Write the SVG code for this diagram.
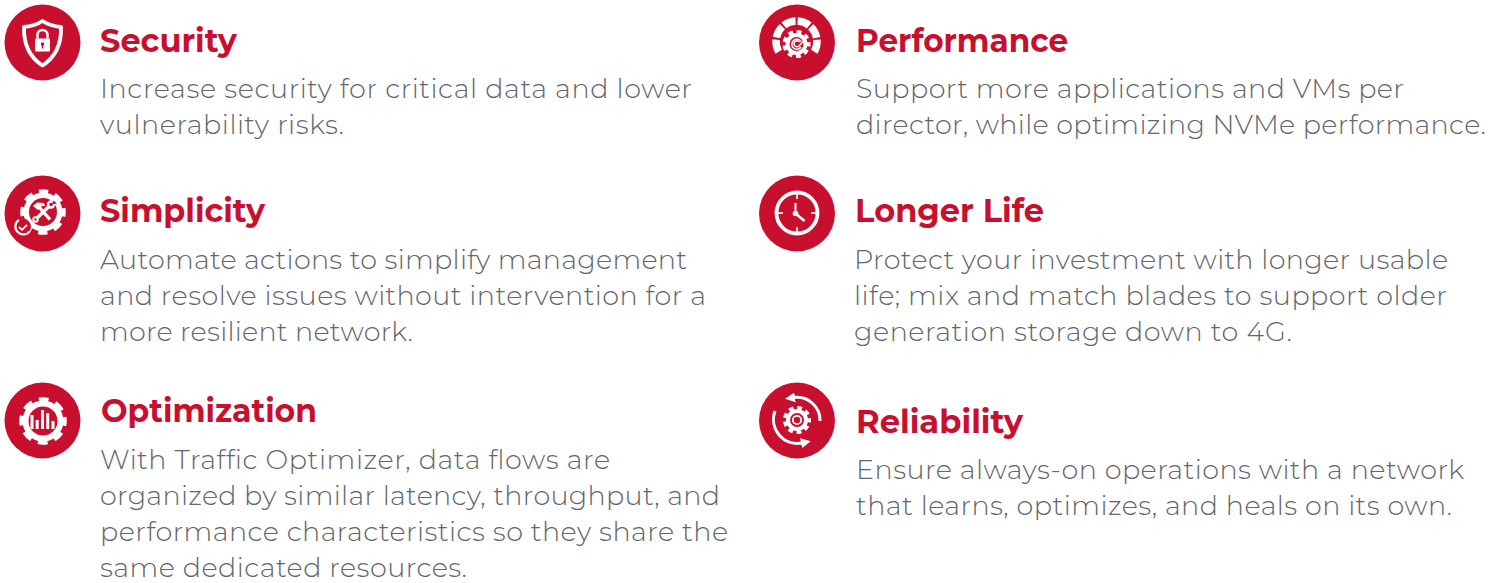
<svg xmlns="http://www.w3.org/2000/svg" width="1505" height="583" viewBox="0 0 1505 583">
<style>
.bg{fill:#fff}
.disc{fill:#c8102e}
.t{font-family:"Montserrat","Inter","Liberation Sans",sans-serif;font-weight:700;font-size:32px;fill:#c8102e}
.b{font-family:"Montserrat","Inter","Noto Sans","Liberation Sans",sans-serif;font-weight:300;font-size:27px;fill:#63666a}
.w{fill:#fff;stroke:none}
.r{fill:#c8102e;stroke:none}
.ws{fill:none;stroke:#fff}
.teeth{fill:none;stroke:#fff}
</style>
<defs>
<marker id="ah" markerUnits="userSpaceOnUse" markerWidth="11" markerHeight="11" refX="1" refY="5.500" orient="auto"><path d="M0 0.500L10 5.500L0 10.500Z" fill="#fff"/></marker>
</defs>
<rect class="bg" width="1505" height="583"/>
<g id="security">
<circle class="disc" cx="42.500" cy="42.500" r="38"/>
<path class="ws" stroke-width="3.800" stroke-linejoin="round" d="M42.500 21C36.500 25 30.500 26.500 24 27C23.500 43.500 28.500 56.500 42.500 65.500C56.500 56.500 61.500 43.500 61 27C54.500 26.500 48.500 25 42.500 21Z"/>
<path class="w" d="M36 38.500h13a1 1 0 0 1 1 1v11a1 1 0 0 1-1 1H36a1 1 0 0 1-1-1V39.500a1 1 0 0 1 1-1Z"/>
<path class="ws" stroke-width="2.400" d="M37.500 38.500v-3.500a5 5 0 0 1 10 0V38.500"/>
<circle class="r" cx="42.500" cy="44" r="1.700"/><rect class="r" x="41.700" y="44.500" width="1.600" height="4"/>
<text class="t" x="100" y="52" textLength="137" lengthAdjust="spacingAndGlyphs">Security</text>
<text class="b" x="100" y="98" textLength="592">Increase security for critical data and lower</text>
<text class="b" x="100" y="134" textLength="244">vulnerability risks.</text>
</g>
<g id="simplicity">
<circle class="disc" cx="42.500" cy="213.500" r="38"/>
<circle class="w" cx="43" cy="212" r="19.500"/>
<circle class="teeth" stroke-width="5.500" stroke-dasharray="9 6.700" stroke-dashoffset="4.500" cx="43" cy="212" r="20"/>
<circle class="r" cx="43" cy="212" r="14"/>
<g class="ws" stroke-width="3.400"><path d="M39 207L50 219.500"/><path d="M49.500 206L36.500 218.500"/></g>
<path class="w" d="M33 206l4-3.500 7 0.500 1 3-3 0-4 4z"/>
<circle class="ws" stroke-width="2.400" cx="51" cy="204.500" r="3"/>
<path class="r" d="M51.500 204.500l2-4 3.500 3z"/>
<circle class="ws" stroke-width="2" cx="35.500" cy="219.500" r="2.200"/>
<circle class="disc" cx="22.500" cy="227" r="8.500"/>
<path class="ws" stroke-width="2.200" d="M30 231A8 8 0 1 1 19 219.800"/>
<path class="ws" stroke-width="1.800" d="M19 227l3 2.800 5-5"/>
<text class="t" x="100" y="222" textLength="165" lengthAdjust="spacingAndGlyphs">Simplicity</text>
<text class="b" x="100" y="269" textLength="587">Automate actions to simplify management</text>
<text class="b" x="100" y="305" textLength="606">and resolve issues without intervention for a</text>
<text class="b" x="100" y="341" textLength="313">more resilient network.</text>
</g>
<g id="optimization">
<circle class="disc" cx="42.500" cy="420.500" r="38"/>
<circle class="w" cx="43" cy="421" r="20.500"/>
<circle class="teeth" stroke-width="5.500" stroke-dasharray="9.500 7" stroke-dashoffset="4.750" cx="43" cy="421" r="21"/>
<circle class="r" cx="43" cy="421" r="14.500"/>
<g class="w"><rect x="30.500" y="415" width="3" height="14"/><rect x="35.700" y="420" width="3" height="9"/><rect x="41" y="410" width="3" height="19"/><rect x="46.200" y="413" width="3" height="16"/><rect x="51.500" y="421" width="3" height="8"/></g>
<text class="t" x="101" y="422" textLength="216" lengthAdjust="spacingAndGlyphs">Optimization</text>
<text class="b" x="100" y="469" textLength="510">With Traffic Optimizer, data flows are</text>
<text class="b" x="100" y="505" textLength="620">organized by similar latency, throughput, and</text>
<text class="b" x="100" y="541" textLength="628">performance characteristics so they share the</text>
<text class="b" x="100" y="577" textLength="367">same dedicated resources.</text>
</g>
<g id="performance">
<circle class="disc" cx="797" cy="42.500" r="38"/>
<path class="ws" stroke-width="7.500" stroke-dasharray="12.600 2" d="M778.750 51.750A20.500 20.500 0 1 1 814.250 51.750"/>
<circle class="disc" cx="796.500" cy="44" r="15.500"/>
<circle class="w" cx="796.500" cy="44" r="11"/>
<circle class="teeth" stroke-width="3.500" stroke-dasharray="4.800 3.800" stroke-dashoffset="2.400" cx="796.500" cy="44" r="12.300"/>
<circle class="r" cx="796.500" cy="44" r="7"/>
<path class="ws" stroke-width="1.600" d="M801 41.500A5 5 0 1 0 801 47"/>
<path class="ws" stroke-width="1.500" d="M799.500 42A3 3 0 1 0 799.500 45.500L803.500 41"/>
<text class="t" x="856" y="52" textLength="212" lengthAdjust="spacingAndGlyphs">Performance</text>
<text class="b" x="856" y="98" textLength="548">Support more applications and VMs per</text>
<text class="b" x="856" y="134" textLength="630">director, while optimizing NVMe performance.</text>
</g>
<g id="longer-life">
<circle class="disc" cx="797" cy="213.500" r="38"/>
<circle class="ws" stroke-width="3.800" cx="797" cy="213" r="20.500"/>
<g class="ws" stroke-width="1.600"><path d="M797 194v5"/><path d="M797 227v5"/><path d="M778 213h5"/><path d="M811 213h5"/></g>
<circle class="w" cx="795.500" cy="213.500" r="2.800"/>
<path class="ws" stroke-width="2" d="M795.500 213V203"/>
<path class="ws" stroke-width="2.400" d="M795.500 213.500L804.500 221"/>
<text class="t" x="855" y="222" textLength="189" lengthAdjust="spacingAndGlyphs">Longer Life</text>
<text class="b" x="854" y="269" textLength="594">Protect your investment with longer usable</text>
<text class="b" x="854" y="305" textLength="593">life; mix and match blades to support older</text>
<text class="b" x="854" y="341" textLength="438">generation storage down to 4G.</text>
</g>
<g id="reliability">
<circle class="disc" cx="797" cy="420.500" r="38"/>
<circle class="w" cx="797" cy="420" r="11"/>
<circle class="teeth" stroke-width="3.500" stroke-dasharray="4.800 3.800" stroke-dashoffset="2.400" cx="797" cy="420" r="12.300"/>
<circle class="r" cx="797" cy="420" r="7"/>
<circle class="ws" stroke-width="1.800" cx="797" cy="420" r="4.200"/>
<path class="ws" stroke-width="3" marker-end="url(#ah)" d="M820 421A23 23 0 0 0 794 397.500"/>
<path class="ws" stroke-width="3" marker-end="url(#ah)" d="M775 411A24 24 0 0 0 802 443"/>
<text class="t" x="856" y="433" textLength="167" lengthAdjust="spacingAndGlyphs">Reliability</text>
<text class="b" x="856" y="479" textLength="608">Ensure always-on operations with a network</text>
<text class="b" x="856" y="515" textLength="596">that learns, optimizes, and heals on its own.</text>
</g>
<g id="connectors"></g>
</svg>
